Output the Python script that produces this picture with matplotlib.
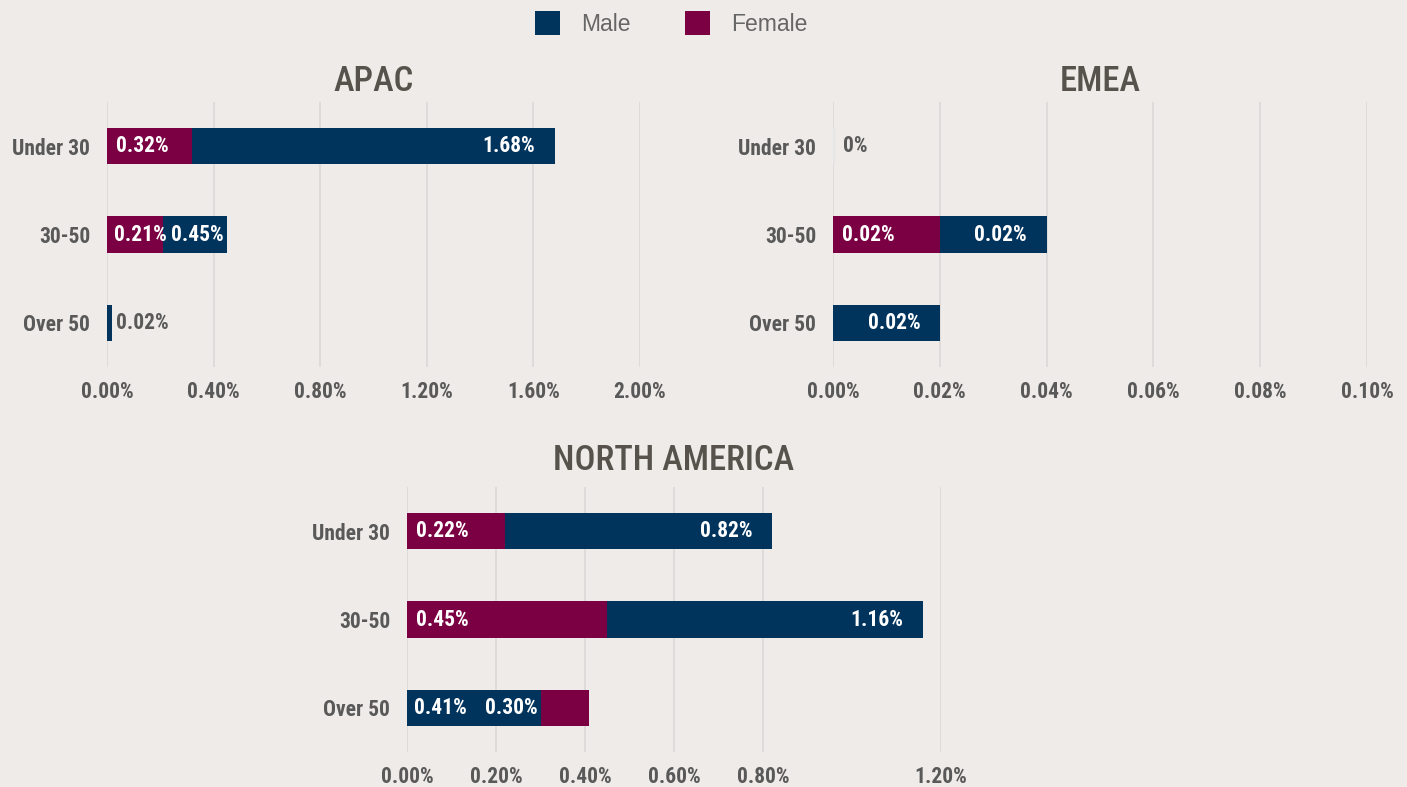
import matplotlib
matplotlib.use("Agg")
import matplotlib.pyplot as plt
from matplotlib import font_manager
from matplotlib.patches import Patch

# age bands, top to bottom
AGE_BANDS = ["Under 30", "30-50", "Over 50"]

# rates in percent
APAC_MALE = [1.68, 0.45, 0.02]
APAC_FEMALE = [0.32, 0.21, 0.0]
EMEA_MALE = [0.0, 0.02, 0.02]
EMEA_FEMALE = [0.0, 0.02, 0.0]
NA_MALE = [0.82, 1.16, 0.30]
NA_FEMALE = [0.22, 0.45, 0.41]

APAC_TICKS = [0.0, 0.4, 0.8, 1.2, 1.6, 2.0]
EMEA_TICKS = [0.0, 0.02, 0.04, 0.06, 0.08, 0.10]
NA_TICKS = [0.0, 0.2, 0.4, 0.6, 0.8, 1.2]

MALE_COLOR = "#01345d"
FEMALE_COLOR = "#7b0043"
BG = "#efebe8"
GRID = "#d8d8d8"
TEXT = "#595959"
TITLE = "#57534c"

W, H = 1407, 787
FS = 15.5


def pick_font(names):
    for name in names:
        try:
            font_manager.findfont(name, fallback_to_default=False)
            return name
        except ValueError:
            continue
    return "DejaVu Sans"


NARROW = pick_font(["Liberation Sans Narrow", "Roboto Condensed", "Roboto", "DejaVu Sans"])
PLAIN = pick_font(["Liberation Sans", "Open Sans", "DejaVu Sans"])


def add_axes_px(fig, left, top, right, bottom):
    return fig.add_axes([left / W, 1 - bottom / H, (right - left) / W, (bottom - top) / H])


def fmt(v):
    return "0%" if v == 0 else f"{v:.2f}%"


def draw_panel(ax, title, male, female, ticks, xmax, stacked, title_pad=8):
    ax.set_facecolor(BG)
    y = list(range(len(AGE_BANDS)))
    h = 0.41
    px_per_unit = ax.get_position().width * W / xmax
    label_kw = dict(va="center", fontsize=FS, fontweight="bold", family=NARROW,
                    textcoords="offset points")

    for i in y:
        m, f = male[i], female[i]
        if stacked:
            ax.barh(i, f, height=h, color=FEMALE_COLOR, zorder=3)
            ax.barh(i, m, left=f, height=h, color=MALE_COLOR, zorder=3)
            m_end = f + m
        else:
            # longer bar sits behind the shorter one
            order = [(m, MALE_COLOR), (f, FEMALE_COLOR)]
            order.sort(key=lambda t: -t[0])
            for z, (v, c) in enumerate(order):
                ax.barh(i, v, height=h, color=c, zorder=3 + z)
            m_end = m

        if m == 0 and f == 0:
            ax.barh(i, 0, height=h, color="#e6e6e8", edgecolor="#e6e6e8",
                    linewidth=2.5, zorder=3)
            ax.annotate(fmt(0), (0, i), xytext=(7, 0), color=TEXT, ha="left",
                        zorder=6, **label_kw)
            continue

        tight = (not stacked and f > 0 and m_end * px_per_unit < 160)
        if f > 0:
            ax.annotate(fmt(f), (0, i), xytext=(5 if tight else 6.5, 0), color="white",
                        ha="left", zorder=6, **label_kw)
        if m > 0:
            seg_px = (m_end - (f if stacked else 0)) * px_per_unit
            if seg_px < 40:
                ax.annotate(fmt(m), (m_end, i), xytext=(3, 0), color=TEXT, ha="left",
                            zorder=6, **label_kw)
            else:
                pad = 2 if tight else 14
                ax.annotate(fmt(m), (m_end, i), xytext=(-pad, 0), color="white",
                            ha="right", zorder=6, **label_kw)

    ax.set_xlim(0, xmax)
    ax.set_ylim(len(AGE_BANDS) - 0.5, -0.5)
    ax.set_xticks(ticks)
    ax.set_xticklabels([f"{t:.2f}%" for t in ticks])
    ax.set_yticks(y)
    ax.set_yticklabels(AGE_BANDS)
    for lab in ax.get_xticklabels() + ax.get_yticklabels():
        lab.set_fontfamily(NARROW)
        lab.set_fontweight("bold")
        lab.set_fontsize(FS)
        lab.set_color(TEXT)
    ax.tick_params(axis="x", length=0, pad=10)
    ax.tick_params(axis="y", length=0, pad=12)
    for s in ax.spines.values():
        s.set_visible(False)
    ax.grid(axis="x", color=GRID, linewidth=1.1, zorder=0)
    ax.grid(axis="y", visible=False)
    ax.set_title(title, family=NARROW, fontsize=25, color=TITLE, pad=title_pad,
                 fontweight="medium")


fig = plt.figure(figsize=(W / 100, H / 100), dpi=100, facecolor=BG)

ax_apac = add_axes_px(fig, 107, 102, 640, 367)
draw_panel(ax_apac, "APAC", APAC_MALE, APAC_FEMALE, APAC_TICKS, 2.0, stacked=False)

ax_emea = add_axes_px(fig, 833, 102, 1367, 367)
draw_panel(ax_emea, "EMEA", EMEA_MALE, EMEA_FEMALE, EMEA_TICKS, 0.10, stacked=True)

ax_na = add_axes_px(fig, 407, 487, 941, 752)
draw_panel(ax_na, "NORTH AMERICA", NA_MALE, NA_FEMALE, NA_TICKS, 1.2, stacked=False,
           title_pad=12)

handles = [Patch(facecolor=MALE_COLOR, label="Male"),
           Patch(facecolor=FEMALE_COLOR, label="Female")]
fig.legend(handles=handles, loc="upper center", bbox_to_anchor=(0.477, 1.012), ncol=2,
           frameon=False, handlelength=1.1, handleheight=1.2, handletextpad=0.9,
           columnspacing=2.4, prop={"family": PLAIN, "size": 16.5}, labelcolor="#666666")

fig.savefig("out.png", dpi=100, facecolor=BG)
